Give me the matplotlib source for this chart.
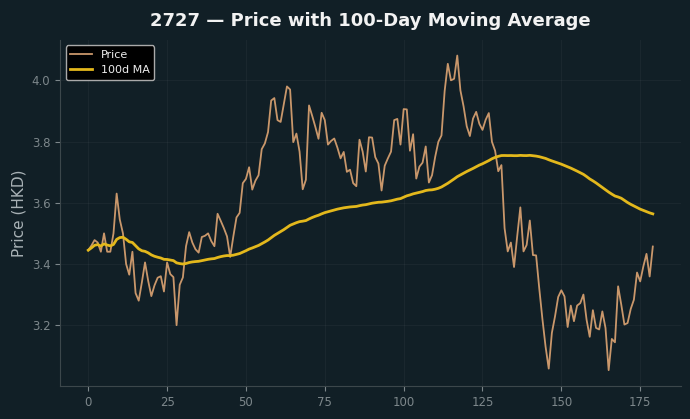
import numpy as np
import pandas as pd
import matplotlib
matplotlib.use("Agg")
import matplotlib.pyplot as plt

title = "2727 — Price with 100-Day Moving Average"
ylabel = "Price (HKD)"
ma_window = 100

price = [
    3.445, 3.46, 3.478, 3.47, 3.44, 3.50, 3.44, 3.44, 3.50, 3.63,
    3.545, 3.50, 3.40, 3.365, 3.44, 3.305, 3.28, 3.34, 3.405, 3.345,
    3.295, 3.33, 3.355, 3.36, 3.31, 3.405, 3.367, 3.357, 3.20, 3.332,
    3.356, 3.458, 3.504, 3.47, 3.448, 3.437, 3.488, 3.492, 3.50, 3.475,
    3.458, 3.564, 3.541, 3.517, 3.49, 3.423, 3.49, 3.552, 3.567, 3.664,
    3.678, 3.716, 3.643, 3.672, 3.69, 3.775, 3.794, 3.831, 3.934, 3.942,
    3.87, 3.864, 3.923, 3.98, 3.97, 3.798, 3.826, 3.767, 3.644, 3.675,
    3.918, 3.884, 3.848, 3.809, 3.894, 3.87, 3.79, 3.802, 3.81, 3.78,
    3.745, 3.766, 3.701, 3.708, 3.664, 3.654, 3.806, 3.767, 3.702, 3.814,
    3.813, 3.749, 3.728, 3.64, 3.721, 3.745, 3.767, 3.87, 3.874, 3.79,
    3.906, 3.905, 3.77, 3.824, 3.679, 3.718, 3.731, 3.784, 3.666, 3.69,
    3.75, 3.799, 3.82, 3.965, 4.054, 4.0, 4.005, 4.081, 3.967, 3.915,
    3.85, 3.818, 3.875, 3.897, 3.858, 3.838, 3.871, 3.893, 3.799, 3.77,
    3.703, 3.723, 3.517, 3.441, 3.47, 3.39, 3.49, 3.585, 3.441, 3.462,
    3.542, 3.429, 3.428, 3.32, 3.22, 3.13, 3.058, 3.175, 3.229, 3.292,
    3.314, 3.294, 3.194, 3.264, 3.213, 3.264, 3.272, 3.30, 3.218, 3.162,
    3.249, 3.191, 3.186, 3.245, 3.191, 3.053, 3.155, 3.144, 3.327, 3.267,
    3.202, 3.207, 3.253, 3.283, 3.372, 3.343, 3.392, 3.433, 3.359, 3.457,
]

day = np.arange(len(price))
ma = pd.Series(price).rolling(ma_window, min_periods=1).mean()

bg = "#111f26"
fig = plt.figure(figsize=(6.9, 4.19), dpi=100, facecolor=bg)
ax = fig.add_axes([0.087, 0.079, 0.900, 0.826], facecolor=bg)

ax.plot(day, price, color="#c9976b", lw=1.3, label="Price", zorder=3)
ax.plot(day, ma, color="#e3b81c", lw=2.0, label="100d MA", zorder=4)

ax.set_title(title, color="#f2f2f2", fontsize=13, fontweight="bold", pad=10)
ax.set_ylabel(ylabel, color="#a9b2b6", fontsize=11)
ax.set_yticks([3.2, 3.4, 3.6, 3.8, 4.0])
ax.set_xticks([0, 25, 50, 75, 100, 125, 150, 175])
ax.tick_params(colors="#7d878b", labelsize=8.5, length=3.5, width=0.8)
ax.grid(True, color="#ffffff", alpha=0.04, lw=0.8)
for s in ["top", "right"]:
    ax.spines[s].set_visible(False)
for s in ["left", "bottom"]:
    ax.spines[s].set_color("#3c474b")

leg = ax.legend(loc="upper left", fontsize=8, facecolor="#000000",
                edgecolor="#aaaaaa", framealpha=1.0, labelcolor="#eeeeee")

fig.savefig("out.png", dpi=100, facecolor=bg)
